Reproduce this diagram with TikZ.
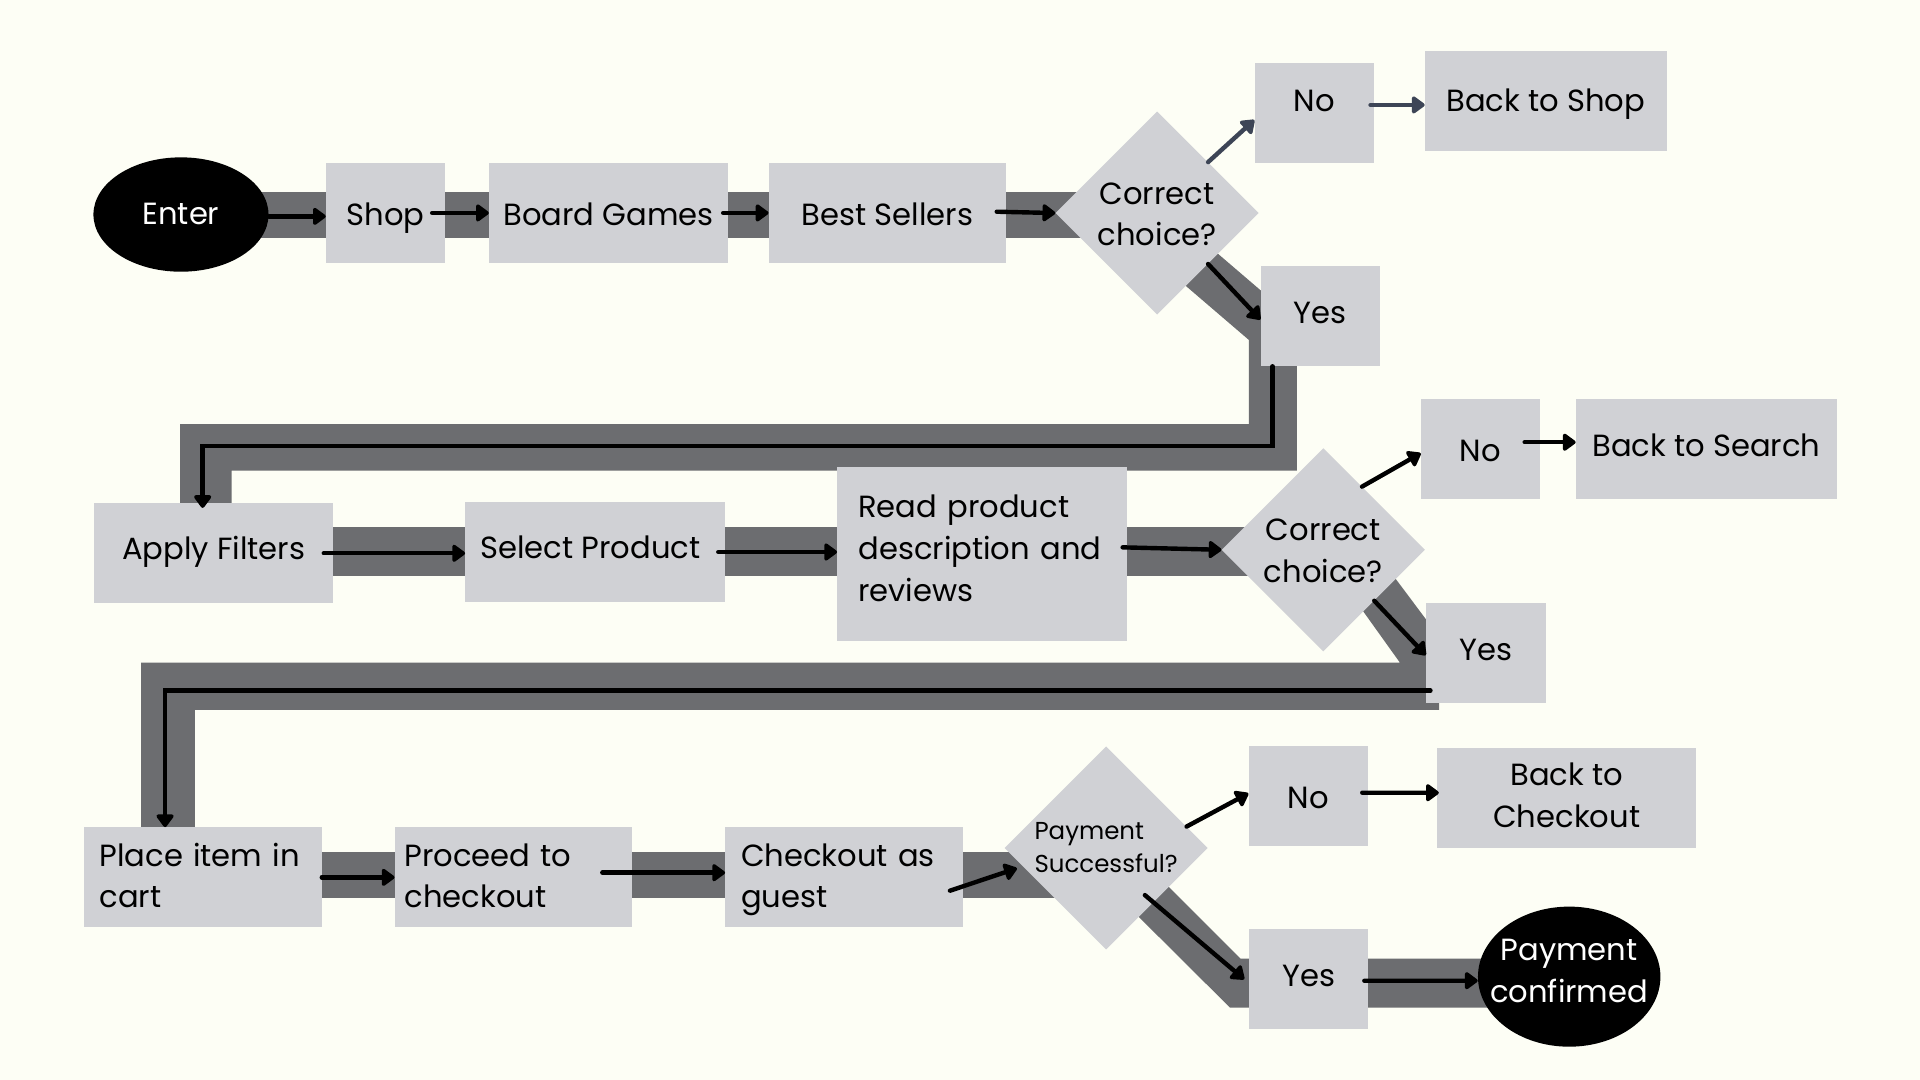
\documentclass[tikz,border=0pt]{standalone}
\usepackage{fontspec}
\setmainfont{Poppins}
\usetikzlibrary{shapes.geometric,arrows.meta,calc}
\definecolor{bgc}{RGB}{253,254,245}
\definecolor{boxc}{RGB}{208,209,213}
\definecolor{bandc}{RGB}{108,109,112}
\definecolor{slatec}{RGB}{61,69,86}
\newcommand\fmain{\fontsize{25}{34}\selectfont}
\newcommand\fsmall{\fontsize{20}{27}\selectfont}
\newcommand\mlt[3]{\raisebox{#1}[\height][\depth]{\begin{tabular}{@{}#2@{}}#3\end{tabular}}}
\tikzset{
  box/.style={fill=boxc, inner sep=0pt, font=\fmain, text=black},
  bx/.style 2 args={box, minimum width=#1, minimum height=#2},
  base/.style={text height={10pt+(#1pt)}, text depth={10pt-(#1pt)}},
  lbox/.style n args={3}{box, minimum width=#1, minimum height=#2, inner xsep=#3, text width={#1-2*(#3)}, align=left},
  dia/.style={diamond, aspect=1, fill=boxc, inner sep=-5pt, minimum width=166, minimum height=166, font=\fmain, align=center},
  ell/.style={ellipse, fill=black, text=white, inner sep=0pt, font=\fmain, align=center},
  band/.style={fill=bandc},
  arr/.style={line width=3.6pt, line cap=round, black, -{Triangle[length=11.5pt,width=16pt,round]}},
  sarr/.style={arr, slatec}
}
\begin{document}
\begin{tikzpicture}[x=1pt,y=-1pt]
\fill[bgc] (0,0) rectangle (1568,882);
\useasboundingbox (0,0) rectangle (1568,882);
% bands
\fill[band] (148,156.5) rectangle (945,194.1);
\fill[band] (981.9,196.3) -- (1059,262.4) -- (1059,384.4) -- (189.2,384.4) -- (189.2,420) -- (147,420) -- (147,346.3) -- (1020,346.3) -- (1020,277.7) -- (957.8,224.4) -- cycle;
\fill[band] (174.5,430.1) rectangle (1080.7,470.4);
\fill[band] (1116.6,441.7) -- (1191,541.2) -- (1175.2,565) -- (1175.2,579.8) -- (159.2,579.8) -- (159.2,680) -- (115.2,680) -- (115.2,541.2) -- (1143.3,541.2) -- (1090.1,466.9) -- cycle;
\fill[band] (165,695.5) rectangle (903.3,733.6);
\fill[band] (915.5,685.4) -- (1013,782.9) -- (1281.5,782.9) -- (1281.5,822.9) -- (1004.5,822.9) -- (891,710) -- cycle;
% row 1
\node[ell, base=8, minimum width=143, minimum height=93.4] (enter) at (147.8,175.2) {Enter};
\node[bx={97.5}{82.2}, base=10] (shop) at (315,173.9) {Shop};
\node[bx={195}{82.2}, base=10] (bg) at (496.9,173.9) {Board Games};
\node[bx={194}{82.2}, base=10] (bs) at (724.8,173.9) {Best Sellers};
\node[dia] (d1) at (945,174) {\mlt{-3pt}{c}{Correct\\choice?}};
\node[bx={97.5}{81.7}, base=-1] (no1) at (1073.3,92) {No};
\node[bx={197.3}{81.6}, base=9] (bts) at (1262.35,82.2) {Back to Shop};
\node[bx={97.5}{81.9}, base=6.5] (yes1) at (1078.25,258) {Yes};
% row 2
\node[bx={195.4}{81.7}, base=5] (af) at (174.5,451.85) {Apply Filters};
\node[bx={212.4}{81.6}, base=5.5] (sp) at (486.2,450.8) {\hspace{-8pt}Select Product};
\node[lbox={236.8}{142.1}{17.2}] (read) at (802.2,452.15) {\mlt{2pt}{l}{Read product\\description and\\reviews}};
\node[dia] (d2) at (1080.7,449) {\mlt{-3pt}{c}{Correct\\choice?}};
\node[bx={97.1}{81.7}, base=10.4] (no2) at (1209,366.65) {No};
\node[bx={213}{81.7}, base=6.3] (bsr) at (1393.5,366.65) {Back to Search};
\node[bx={97.7}{81.7}, base=6.5] (yes2) at (1213.45,533.05) {Yes};
% row 3
\node[lbox={194.3}{81.6}{13}] (pic) at (165.45,716.5) {\mlt{-1pt}{l}{Place item in\\cart}};
\node[lbox={193.8}{81.6}{8}] (proc) at (419.3,716.5) {\mlt{-1pt}{l}{Proceed to\\checkout}};
\node[lbox={194.2}{81.6}{13}] (cag) at (689.4,716.5) {\mlt{-1pt}{l}{Checkout as\\guest}};
\node[dia, font=\fsmall] (d3) at (903.3,692.5) {\mlt{-1.5pt}{l}{Payment\\Successful?}};
\node[bx={97.5}{81.8}, base=10] (no3) at (1068.45,650.1) {No};
\node[bx={211.8}{81.8}] (btc) at (1279.5,651.9) {\mlt{0pt}{c}{Back to\\Checkout}};
\node[bx={97.2}{81.7}, base=6] (yes3) at (1068.9,799.75) {Yes};
\node[ell, inner xsep=-12pt, minimum width=149, minimum height=114.4] (pc) at (1281.5,797.6) {\mlt{3pt}{c}{Payment\\confirmed}};
% route coordinates
\coordinate (r1) at (600,364);
\coordinate (r2) at (134.8,564);
% arrows row 1
\draw[arr] ($(enter.east)+(0,1.5)$) -- ($(enter.east -| shop.west)+(0,1.5)$);
\draw[arr] ([xshift=-11pt]shop.east) -- (bg.west);
\draw[arr] ([xshift=-4pt]bg.east) -- (bg.east -| bs.west);
\draw[arr] ($(bs.east)+(-8,-1)$) -- (d1.west);
\draw[sarr] (d1.north east) -- ($(no1.west)+(0,6)$);
\draw[sarr] ($(no1.east |- bts.west)+(-3,3.5)$) -- ($(bts.west)+(0,3.5)$);
\draw[arr] (d1.south east) -- ($(yes1.west)+(0,3)$);
\draw[arr] ($(yes1.south)+(-39.1,0)$) |- (r1) -| ($(af.north)+(-9,4)$);
% arrows row 2
\draw[arr] ([xshift=-8pt]af.east) -- (af.east -| sp.west);
\draw[arr] ([xshift=-6pt]sp.east) -- (sp.east -| read.west);
\draw[arr] ($(d2.west -| read.east)+(-4,-2)$) -- (d2.west);
\draw[arr] ($(d2.north)!0.38!(d2.east)$) -- ($(no2.west)+(0,3.5)$);
\draw[arr] ($(no2.east)+(-12.6,-5.5)$) -- ($(bsr.west)+(0,-5.5)$);
\draw[arr] (d2.south east) -- ($(yes2.west)+(0,2)$);
\draw[arr] ($(yes2.west)+(3.8,31)$) -| (pic.north -| r2);
% arrows row 3
\draw[arr] (pic.east) -- (proc.west);
\draw[arr] ($(proc.east)+(-24.5,-3.8)$) -- ($(cag.west)+(0,-3.8)$);
\draw[arr] ($(cag.east)+(-10.9,10.9)$) -- ($(d3.west)+(10.4,16.6)$);
\draw[arr] ($(d3.north)!0.79!(d3.east)$) -- ($(no3.west)+(0,-2.2)$);
\draw[arr] ($(no3.east)+(-4.9,-2.7)$) -- ($(btc.west)+(1.6,-4.5)$);
\draw[arr] ($(d3.center)+(31.7,38.5)$) -- ($(yes3.west)+(-4,0)$);
\draw[arr] ($(yes3.east)+(-3.5,1.2)$) -- ($(pc.west)+(0,3.3)$);
\end{tikzpicture}
\end{document}
